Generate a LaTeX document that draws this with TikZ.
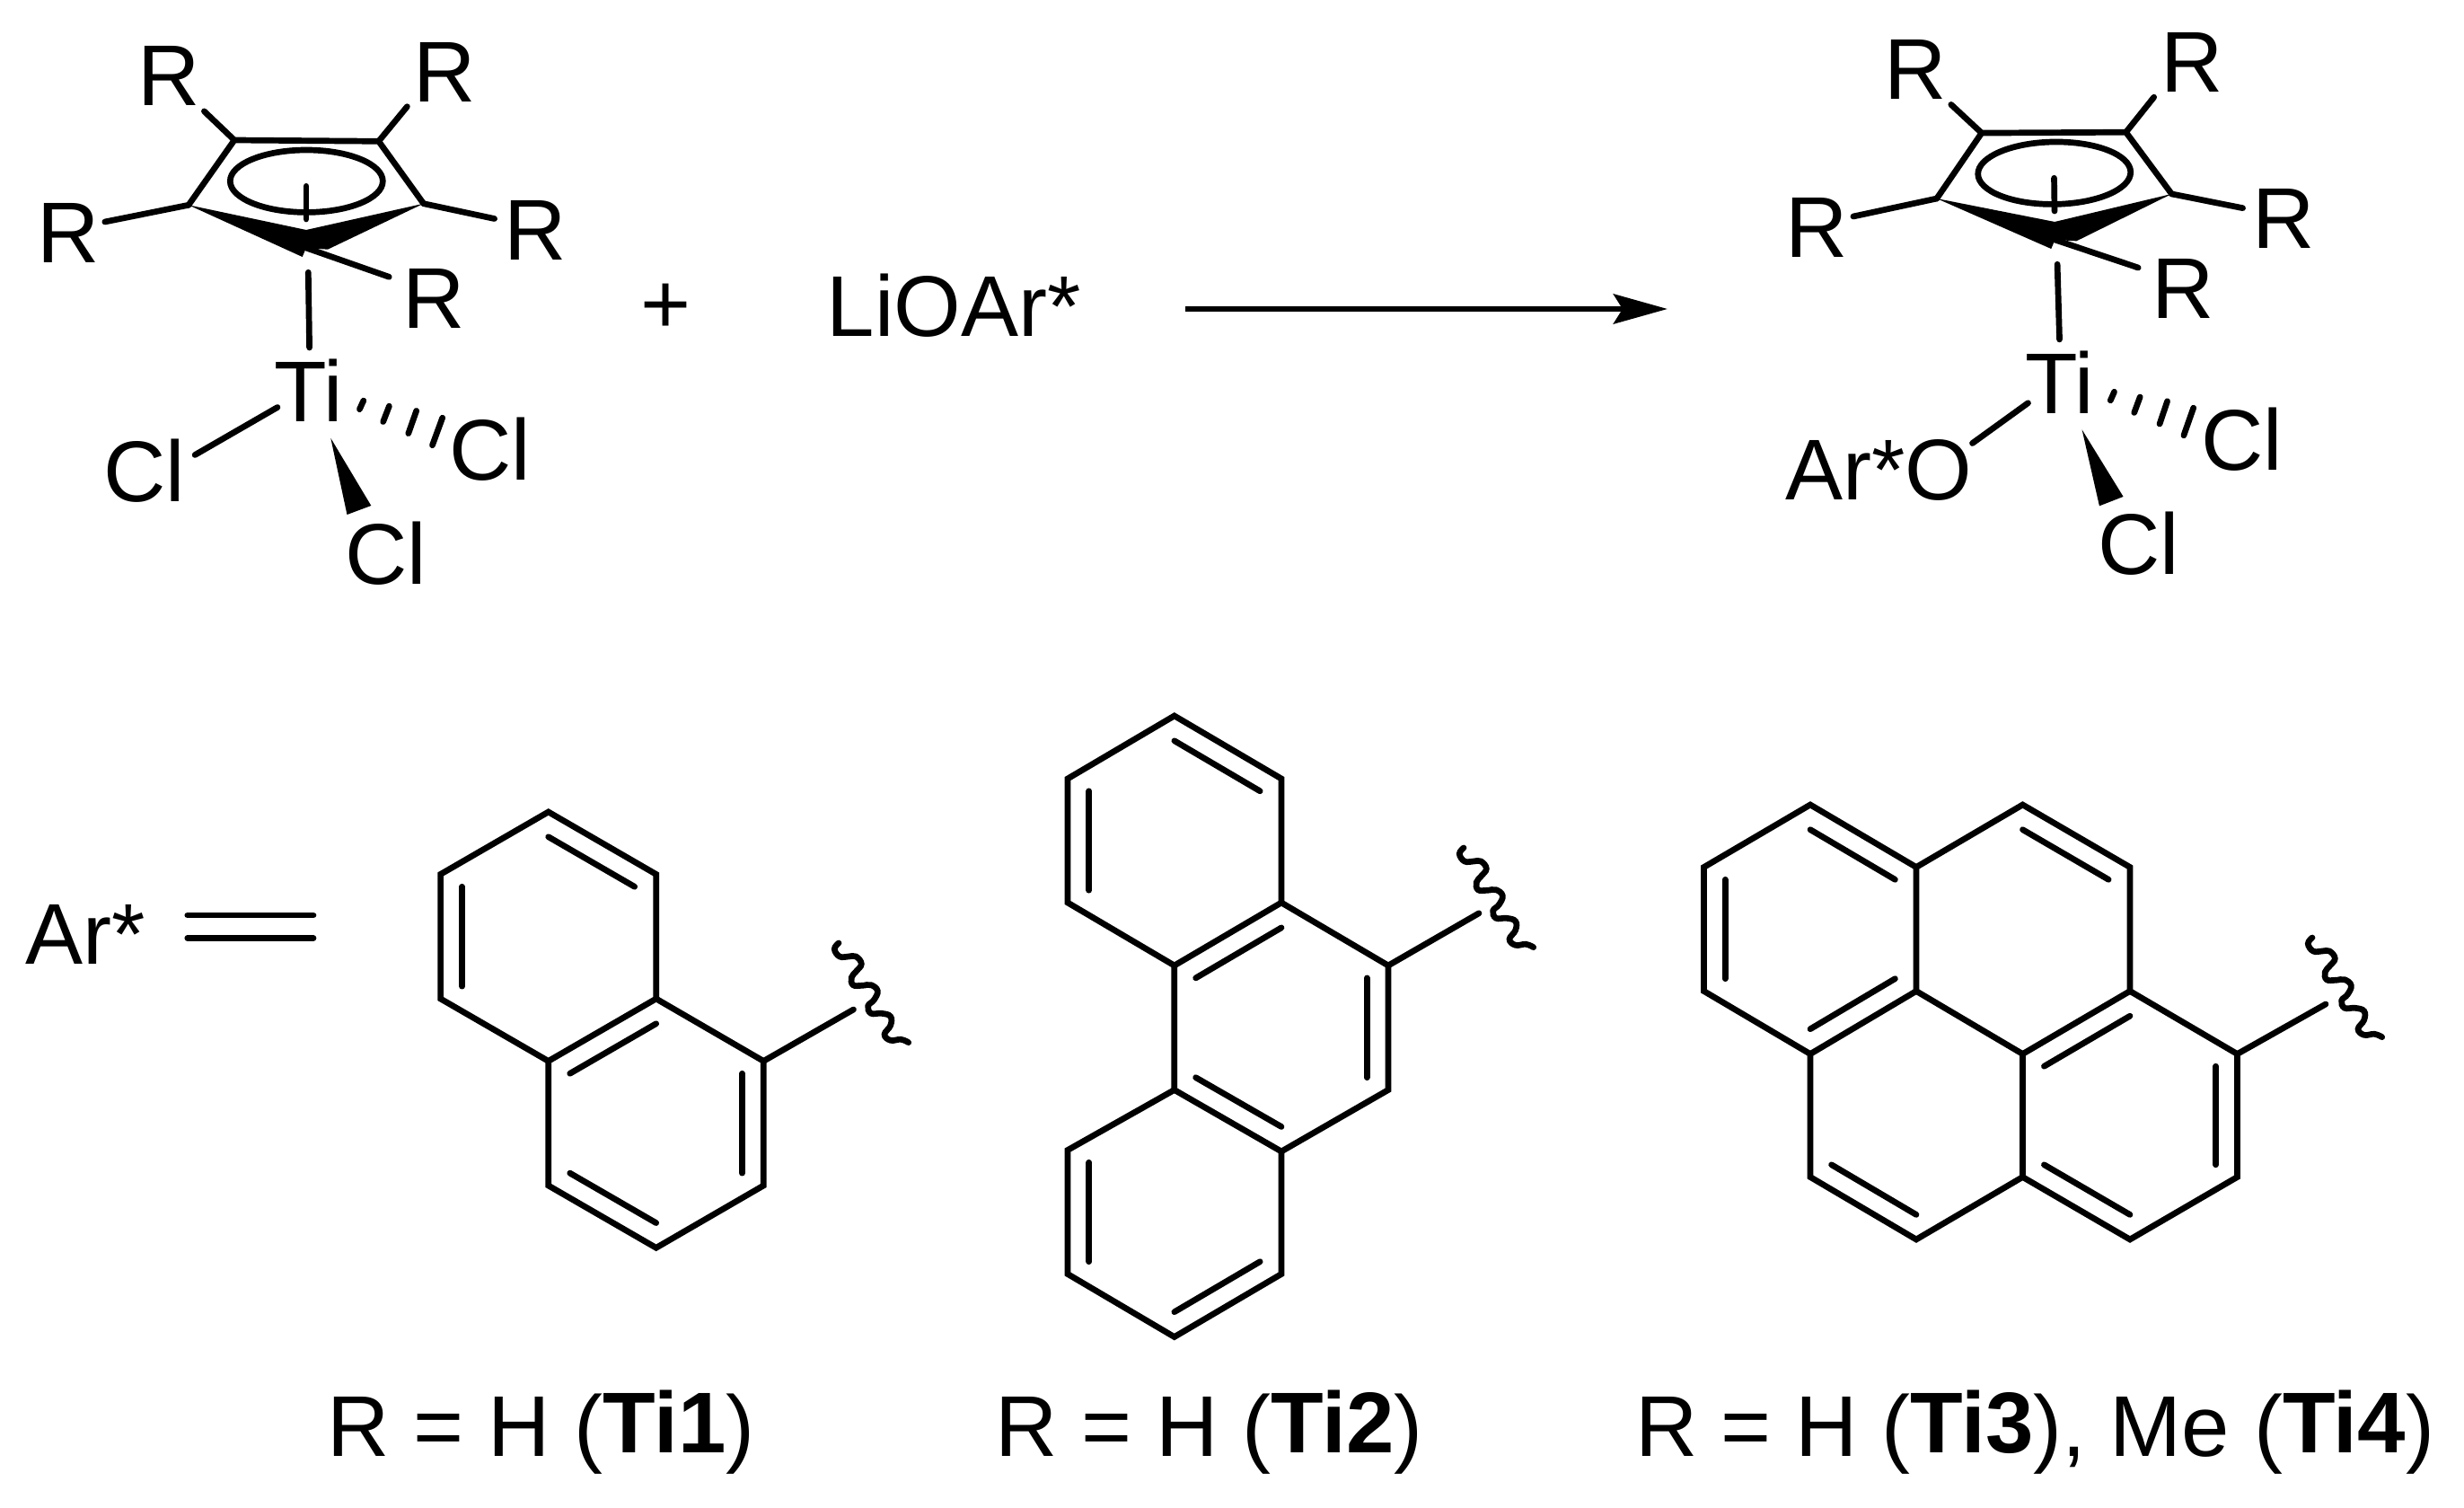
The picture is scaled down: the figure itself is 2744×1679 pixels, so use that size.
\documentclass[tikz,border=0pt]{standalone}
\usepackage{fontspec}
\setmainfont{Liberation Sans}
\usetikzlibrary{arrows.meta,calc}
\tikzset{
	bond/.style={line width=0.067cm, line cap=round},
	atom/.style={anchor=base, inner sep=0pt, font=\fontsize{27.3}{30}\selectfont},
}
\newcommand{\inbond}[3] % {atom}{atom}{ring centre}
{
	\draw [bond] ($(#1)!0.2!(#3)$) -- ($(#2)!0.2!(#3)$);
}
\newcommand{\wavy}[2] % {x}{y} of the upper end
{
	\draw [bond, shift={(#1,#2)}] plot [smooth, tension=0.7] coordinates {(0,0) (-4.7,6.7) (1,15) (11,15) (19.3,15) (25.3,23.3) (19.3,31.7) (14.3,38.3) (16,46.7) (26,47.3) (36,46.7) (43.3,53.3) (39.3,63.3) (32.7,70) (36,78.3) (47.7,78.3) (57.7,81.7) (57.7,91.7) (51,101.7) (57.7,108.3) (69.3,107.3) (77.7,110.7)};
}
\newcommand{\cptitan}[4] % {dx}{dy}{angle}{prefix}
{
	\begin{scope}[shift={(#1,#2)}, rotate around={#3:(341,256)}]
	\foreach \n/\x/\y in {tl/261/156, tr/421.7/157.3, rt/471.7/226.7, bt/341/256, lf/210/228.3, wl/336.7/286, wr/365/277.7, btl/227.4/123.9, btr/453.4/118.7, bl/116.8/247, br/550.6/243.5, bba/341/276, bbb/433.3/308.3, ec/341.3/201.7, pa/341/207.3, pb/341/244, tia/343.3/303.3, tib/344.6/387, wa/368.3/487.8, wb/386.5/573, wc/413.3/563}
		\coordinate (#4\n) at (\x,\y);
	\foreach \i/\x/\y in {1/188/117.4, 2/495.5/113.9, 3/75.8/292.2, 4/596/289.1, 5/482.8/365.2}
		\node [atom] (#4r\i) at (\x,\y) {R};
	\node [atom] (#4ti) at (344,469.6) {Ti};
	\node [atom] (#4clr) at (546,534.8) {Cl};
	\node [atom] (#4clb) at (429.5,650) {Cl};
	\draw [bond, line join=miter] (#4lf) -- (#4tl) -- (#4tr) -- (#4rt);
	\draw [bond] (#4ec) ellipse [x radius=85, y radius=34.7];
	\draw [bond] (#4pa) -- (#4pb);
	\fill (#4lf) -- (#4bt) -- (#4rt) -- (#4wr) -- (#4bba) -- (#4wl) -- cycle;
	\draw [bond] (#4btl) -- (#4tl);
	\draw [bond] (#4btr) -- (#4tr);
	\draw [bond] (#4bl) -- (#4lf);
	\draw [bond] (#4br) -- (#4rt);
	\draw [bond] (#4bba) -- (#4bbb);
	\draw [bond] (#4tia) -- (#4tib);
	\fill (#4wa) -- (#4wb) -- (#4wc) -- cycle;
	\foreach \xa/\ya/\xb/\yb in {400.4/455.7/404.8/446.1, 426.7/469.6/433.4/452.2, 454.8/482.6/463.7/457.4, 481.5/495.7/492.7/465.2}
		\draw [bond] (\xa,\ya) -- (\xb,\yb);
	\end{scope}
}
\newcommand{\ticode}[1]{\raisebox{0.04cm}{\textbf{Ti#1}}}

\begin{document}
\begin{tikzpicture}[x=0.01cm, y=-0.01cm]
	\useasboundingbox (0,0) rectangle (2744,1679);

	%top row
	\cptitan{0}{0}{0}{a}
	\cptitan{1947.2}{-9}{0.77}{b}
	\node [atom] (acll) at (161,558.7) {Cl};
	\coordinate (acla) at (309,453.5);
	\coordinate (aclb) at (217.1,506.5);
	\draw [bond] (acla) -- (aclb);
	\node [atom] (baro) at (2092.5,556.5) {Ar*O};
	\coordinate (boa) at (2258.5,448.7);
	\coordinate (bob) at (2196.5,493.5);
	\draw [bond] (boa) -- (bob);
	\node [atom] (plus) at (742,372) {+};
	\node [atom] (lioar) at (1062,375) {LiOAr*};
	\coordinate (arrowa) at (1320,344);
	\coordinate (arrowb) at (1857,344);
	\draw [line width=0.067cm, -{Stealth[length=0.6cm, width=0.33cm, inset=0.1cm]}] (arrowa) -- (arrowb);

	%Ar* =
	\node [atom] (arstar) at (95.6,1073) {Ar*};
	\coordinate (eqa) at (208.8,1019);
	\coordinate (eqb) at (349,1019);
	\coordinate (eqc) at (208.8,1044.5);
	\coordinate (eqd) at (349,1044.5);
	\draw [bond] (eqa) -- (eqb);
	\draw [bond] (eqc) -- (eqd);

	%Ti1
	\foreach \n/\x/\y in {a/610.7/904, b/730.7/973.4, c/730.7/1112, d/610.7/1181.4, e/490.6/1112, f/490.6/973.4, g/850.3/1181.4, h/850.3/1320, i/730.7/1389.3, j/610.7/1320, m/610.7/1042.7, o/730.7/1250.7, x/950.5/1124}
		\coordinate (n\n) at (\x,\y);
	\draw [bond, line join=miter] (na) -- (nb) -- (nc) -- (nd) -- (ne) -- (nf) -- cycle;
	\draw [bond, line join=miter] (nc) -- (ng) -- (nh) -- (ni) -- (nj) -- (nd);
	\draw [bond] (ng) -- (nx);
	\inbond{na}{nb}{nm}
	\inbond{ne}{nf}{nm}
	\inbond{nc}{nd}{no}
	\inbond{ng}{nh}{no}
	\inbond{ni}{nj}{no}
	\wavy{934}{1050}
	\node [atom] (capa) at (602.5,1621) {R = H (\ticode{1})};

	%Ti2
	\foreach \n/\x/\y in {a/1307.8/797, b/1427/867, c/1427/1005, d/1307.8/1075, e/1189/1005, f/1189/867, g/1546/1075, h/1546/1213.5, i/1427/1282, j/1307.8/1213.5, k/1189/1280.5, l/1189/1418.5, p/1307.8/1488.5, q/1427/1418.5, m/1308/936, o/1427/1144.5, r/1308/1349.5, x/1647/1016.8}
		\coordinate (p\n) at (\x,\y);
	\draw [bond, line join=miter] (pa) -- (pb) -- (pc) -- (pd) -- (pe) -- (pf) -- cycle;
	\draw [bond, line join=miter] (pc) -- (pg) -- (ph) -- (pi) -- (pj) -- (pd);
	\draw [bond, line join=miter] (pj) -- (pk) -- (pl) -- (pp) -- (pq) -- (pi);
	\draw [bond] (pg) -- (px);
	\inbond{pa}{pb}{pm}
	\inbond{pe}{pf}{pm}
	\inbond{pc}{pd}{po}
	\inbond{pg}{ph}{po}
	\inbond{pi}{pj}{po}
	\inbond{pk}{pl}{pr}
	\inbond{pp}{pq}{pr}
	\wavy{1630}{944}
	\node [atom] (capb) at (1346.6,1621) {R = H (\ticode{2})};

	%Ti3, Ti4
	\foreach \n/\x/\y in {a/2016/896, b/2134/965.5, c/2252.5/896, d/2372/965.5, e/2372/1103.5, f/2491.5/1173.5, g/2491.5/1310.5, h/2372/1380, i/2252.5/1310.5, j/2134/1380, k/2016/1310.5, l/2016/1173.5, m/1897.5/1103.5, n/1897.5/965.5, o/2134/1103.5, p/2252.5/1173.5, r/2016/1034.5, s/2372/1242, t/2134/1242, u/2252.5/1034.5, x/2590/1118}
		\coordinate (q\n) at (\x,\y);
	\draw [bond, line join=miter] (qa) -- (qb) -- (qc) -- (qd) -- (qe) -- (qf) -- (qg) -- (qh) -- (qi) -- (qj) -- (qk) -- (ql) -- (qm) -- (qn) -- cycle;
	\draw [bond] (qb) -- (qo) -- (qp) -- (qi);
	\draw [bond] (qo) -- (ql);
	\draw [bond] (qp) -- (qe);
	\draw [bond] (qf) -- (qx);
	\inbond{qa}{qb}{qr}
	\inbond{qm}{qn}{qr}
	\inbond{ql}{qo}{qr}
	\inbond{qc}{qd}{qu}
	\inbond{qe}{qp}{qs}
	\inbond{qf}{qg}{qs}
	\inbond{qh}{qi}{qs}
	\inbond{qj}{qk}{qt}
	\wavy{2575}{1044}
	\node [atom] (capc) at (2266,1621) {R = H (\ticode{3}), Me (\ticode{4})};
\end{tikzpicture}
\end{document}
